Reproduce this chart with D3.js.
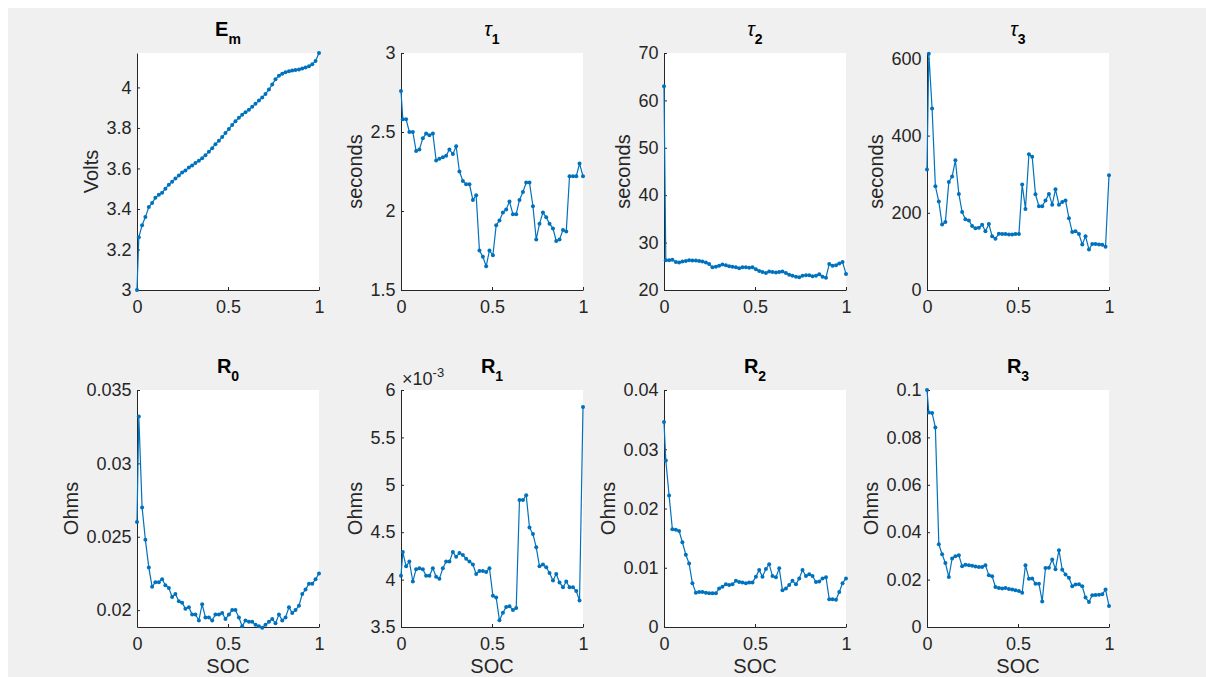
<!DOCTYPE html>
<html>
<head>
<meta charset="utf-8">
<script src="https://cdn.jsdelivr.net/npm/d3@7"></script>
<style>
  body { margin: 0; background: #fff; }
  svg { display: block; font-family: "Liberation Sans", Arial, sans-serif; }
</style>
</head>
<body>
<svg width="1206" height="677"></svg>
<script>
// state of charge grid shared by all panels
let soc = [0, 0.01, 0.028, 0.046, 0.065, 0.083, 0.101, 0.12, 0.138, 0.156,
  0.175, 0.193, 0.211, 0.23, 0.248, 0.266, 0.285, 0.303, 0.321, 0.34,
  0.358, 0.376, 0.395, 0.413, 0.431, 0.45, 0.468, 0.486, 0.505, 0.523,
  0.541, 0.56, 0.578, 0.596, 0.615, 0.633, 0.651, 0.67, 0.688, 0.706,
  0.725, 0.743, 0.761, 0.78, 0.798, 0.816, 0.835, 0.853, 0.871, 0.89,
  0.908, 0.926, 0.945, 0.963, 0.981, 1];

let em = [3.0, 3.26, 3.32, 3.36, 3.41, 3.43, 3.455, 3.47, 3.48, 3.5,
  3.52, 3.535, 3.55, 3.565, 3.58, 3.59, 3.605, 3.615, 3.627, 3.638,
  3.65, 3.665, 3.683, 3.7, 3.72, 3.737, 3.755, 3.775, 3.795, 3.815,
  3.833, 3.85, 3.865, 3.877, 3.89, 3.905, 3.92, 3.935, 3.95, 3.968,
  3.99, 4.015, 4.04, 4.058, 4.068, 4.075, 4.08, 4.083, 4.086, 4.089,
  4.093, 4.098, 4.105, 4.115, 4.13, 4.17];

let tau1 = [2.76, 2.58, 2.58, 2.5, 2.5, 2.38, 2.39, 2.46, 2.49, 2.48,
  2.49, 2.32, 2.33, 2.34, 2.35, 2.39, 2.36, 2.41, 2.25, 2.19,
  2.17, 2.17, 2.07, 2.1, 1.75, 1.71, 1.65, 1.75, 1.72, 1.91,
  1.94, 1.99, 2.01, 2.06, 1.98, 1.98, 2.07, 2.12, 2.18, 2.18,
  2.03, 1.82, 1.92, 1.99, 1.96, 1.92, 1.89, 1.81, 1.82, 1.88,
  1.87, 2.22, 2.22, 2.22, 2.3, 2.22];

let tau2 = [63.0, 26.3, 26.3, 26.4, 25.9, 25.8, 26.0, 26.1, 26.3, 26.2,
  26.2, 26.1, 26.0, 25.8, 25.5, 24.8, 24.9, 25.1, 25.4, 25.2,
  25.0, 24.9, 24.8, 24.6, 24.8, 24.8, 24.7, 24.8, 24.4, 24.0,
  23.8, 23.6, 23.9, 23.8, 23.7, 23.8, 23.9, 23.6, 23.2, 23.0,
  22.8, 22.7, 23.0, 23.1, 23.1, 22.9, 23.0, 23.3, 22.8, 22.6,
  25.5, 25.1, 25.2, 25.6, 25.9, 23.4];

let tau3 = [312, 612, 470, 269, 229, 170, 176, 280, 294, 336,
  249, 202, 183, 180, 166, 160, 161, 169, 152, 171,
  139, 133, 146, 145, 145, 144, 144, 145, 145, 273,
  210, 352, 345, 248, 217, 217, 232, 249, 221, 261,
  221, 228, 232, 186, 150, 152, 145, 118, 139, 105,
  119, 119, 118, 117, 112, 297];

let r0 = [0.026, 0.0332, 0.027, 0.0248, 0.0229, 0.0216, 0.0219, 0.0219, 0.0221, 0.0217,
  0.0215, 0.0209, 0.0211, 0.0206, 0.0205, 0.0201, 0.0202, 0.0197, 0.0197, 0.0193,
  0.0204, 0.0195, 0.0195, 0.0193, 0.0197, 0.0197, 0.0198, 0.0194, 0.0197, 0.02,
  0.02, 0.0195, 0.0189, 0.0193, 0.0192, 0.0192, 0.019, 0.0189, 0.0188, 0.019,
  0.0192, 0.0194, 0.0191, 0.0197, 0.0193, 0.0195, 0.0202, 0.0198, 0.02, 0.0203,
  0.0211, 0.0214, 0.0218, 0.0218, 0.0221, 0.0225];

let r1 = [0.00404, 0.00429, 0.00414, 0.00419, 0.00398, 0.00411, 0.00412, 0.00411, 0.00404, 0.00404,
  0.00412, 0.00403, 0.00401, 0.00412, 0.00419, 0.00419, 0.00429, 0.00424, 0.00428, 0.00426,
  0.00422, 0.00419, 0.00416, 0.00406, 0.00409, 0.00409, 0.00408, 0.00412, 0.00383, 0.00381,
  0.00357, 0.00365, 0.00371, 0.00372, 0.00368, 0.0037, 0.00484, 0.00484, 0.00489, 0.00455,
  0.00448, 0.00434, 0.00414, 0.00416, 0.00413, 0.00407, 0.00399, 0.00406, 0.00397, 0.00392,
  0.00398, 0.00392, 0.00392, 0.00388, 0.00378, 0.00582];

let r2 = [0.0346, 0.0281, 0.0222, 0.0165, 0.0164, 0.0162, 0.0143, 0.0122, 0.0107, 0.0074,
  0.0058, 0.0059, 0.0059, 0.0058, 0.0057, 0.0057, 0.0057, 0.0065, 0.0068, 0.0072,
  0.0071, 0.0072, 0.0078, 0.0076, 0.0075, 0.0074, 0.0075, 0.0075, 0.0085, 0.0096,
  0.0085, 0.0098, 0.0106, 0.0086, 0.0084, 0.0099, 0.0062, 0.0065, 0.0071, 0.0078,
  0.0072, 0.0082, 0.0096, 0.0086, 0.0089, 0.0086, 0.0076, 0.0077, 0.0082, 0.0084,
  0.0047, 0.0047, 0.0046, 0.0059, 0.0074, 0.0082];

let r3 = [0.1, 0.0905, 0.0903, 0.0842, 0.0349, 0.0307, 0.027, 0.0211, 0.0289, 0.0299,
  0.0303, 0.0256, 0.0263, 0.0261, 0.0258, 0.0255, 0.0253, 0.0253, 0.0261, 0.0218,
  0.0214, 0.0169, 0.0165, 0.0162, 0.0165, 0.016, 0.0158, 0.0155, 0.0152, 0.0145,
  0.0261, 0.0204, 0.0205, 0.0183, 0.0183, 0.0108, 0.0249, 0.025, 0.0285, 0.0244,
  0.0324, 0.0242, 0.0221, 0.0208, 0.0172, 0.0179, 0.018, 0.0172, 0.0124, 0.0106,
  0.0134, 0.0135, 0.0136, 0.0138, 0.0158, 0.0089];

let xTicks = [0, 0.5, 1];

let panels = [
  { title: ["E", "m"], sym: false, ylabel: "Volts", values: em, domain: [3, 4.17], ticks: [3, 3.2, 3.4, 3.6, 3.8, 4] },
  { title: ["\u03c4", "1"], sym: true, ylabel: "seconds", values: tau1, domain: [1.5, 3], ticks: [1.5, 2, 2.5, 3] },
  { title: ["\u03c4", "2"], sym: true, ylabel: "seconds", values: tau2, domain: [20, 70], ticks: [20, 30, 40, 50, 60, 70] },
  { title: ["\u03c4", "3"], sym: true, ylabel: "seconds", values: tau3, domain: [0, 614], ticks: [0, 200, 400, 600] },
  { title: ["R", "0"], sym: false, ylabel: "Ohms", values: r0, domain: [0.01885, 0.035], ticks: [0.02, 0.025, 0.03, 0.035] },
  { title: ["R", "1"], sym: false, ylabel: "Ohms", values: r1, domain: [0.0035, 0.006], ticks: [0.0035, 0.004, 0.0045, 0.005, 0.0055, 0.006], exp: -3 },
  { title: ["R", "2"], sym: false, ylabel: "Ohms", values: r2, domain: [0, 0.04], ticks: [0, 0.01, 0.02, 0.03, 0.04] },
  { title: ["R", "3"], sym: false, ylabel: "Ohms", values: r3, domain: [0, 0.1], ticks: [0, 0.02, 0.04, 0.06, 0.08, 0.1] }
];

let svg = d3.select("svg");
let ink = "#262626";
let blue = "#0072BD";

svg.append("rect")
  .attr("x", 8).attr("y", 8)
  .attr("width", 1198).attr("height", 669)
  .attr("fill", "#f0f0f0");

let colLeft = [137, 401, 664, 927];
let rowTop = [53, 390];
let w = 182, h = 237;

panels.forEach((p, i) => {
  let left = colLeft[i % 4];
  let top = rowTop[Math.floor(i / 4)];
  let bottomRow = i >= 4;

  let x = d3.scaleLinear().domain([0, 1]).range([left, left + w]);
  let y = d3.scaleLinear().domain(p.domain).range([top + h, top]);

  let g = svg.append("g");

  g.append("rect")
    .attr("x", left).attr("y", top)
    .attr("width", w).attr("height", h)
    .attr("fill", "#fff");

  let scale = p.exp ? Math.pow(10, -p.exp) : 1;
  let fmt = d => String(+(d * scale).toFixed(6));

  let xa = g.append("g")
    .attr("transform", `translate(0,${top + h})`)
    .call(d3.axisBottom(x).tickValues(xTicks).tickFormat(d => String(d))
      .tickSizeInner(-3).tickSizeOuter(0).tickPadding(10));

  let ya = g.append("g")
    .attr("transform", `translate(${left},0)`)
    .call(d3.axisLeft(y).tickValues(p.ticks).tickFormat(fmt)
      .tickSizeInner(-3).tickSizeOuter(0).tickPadding(5.5));

  [xa, ya].forEach(a => {
    a.attr("font-family", null).attr("font-size", 18);
    a.select(".domain").attr("stroke", ink);
    a.selectAll(".tick line").attr("stroke", ink);
    a.selectAll(".tick text").attr("fill", ink);
  });

  // series
  let pts = soc.map((s, k) => [s, p.values[k]]);
  g.append("path")
    .datum(pts)
    .attr("fill", "none")
    .attr("stroke", blue)
    .attr("stroke-width", 1.2)
    .attr("d", d3.line().x(d => x(d[0])).y(d => y(d[1])));

  g.selectAll(".dot")
    .data(pts)
    .enter()
    .append("circle")
    .attr("cx", d => x(d[0]))
    .attr("cy", d => y(d[1]))
    .attr("r", 2)
    .attr("fill", blue);

  // title
  let t = g.append("text")
    .attr("x", left + w / 2)
    .attr("y", top - 17)
    .attr("text-anchor", "middle")
    .attr("font-size", 20)
    .attr("fill", "#000");
  t.append("tspan")
    .attr("font-weight", p.sym ? "normal" : "bold")
    .attr("font-style", p.sym ? "italic" : null)
    .text(p.title[0]);
  t.append("tspan")
    .attr("font-weight", "bold")
    .attr("font-size", 14)
    .attr("dy", 8)
    .text(p.title[1]);

  // y label placed left of the widest tick label
  let maxW = d3.max(ya.selectAll(".tick text").nodes(), n => n.getBBox().width);
  let lx = left - 5.5 - maxW - 15;
  g.append("text")
    .attr("transform", `translate(${lx},${top + h / 2}) rotate(-90)`)
    .attr("text-anchor", "middle")
    .attr("dy", "0.35em")
    .attr("font-size", 20)
    .attr("fill", ink)
    .text(p.ylabel);

  if (bottomRow) {
    g.append("text")
      .attr("x", left + w / 2)
      .attr("y", top + h + 46)
      .attr("text-anchor", "middle")
      .attr("font-size", 20)
      .attr("fill", ink)
      .text("SOC");
  }

  if (p.exp) {
    let e = g.append("text")
      .attr("x", left + 1)
      .attr("y", top - 5)
      .attr("font-size", 18)
      .attr("fill", ink);
    e.append("tspan").text("\u00d710");
    e.append("tspan").attr("font-size", 13).attr("dy", -8).text(String(p.exp));
  }
});
</script>
</body>
</html>
